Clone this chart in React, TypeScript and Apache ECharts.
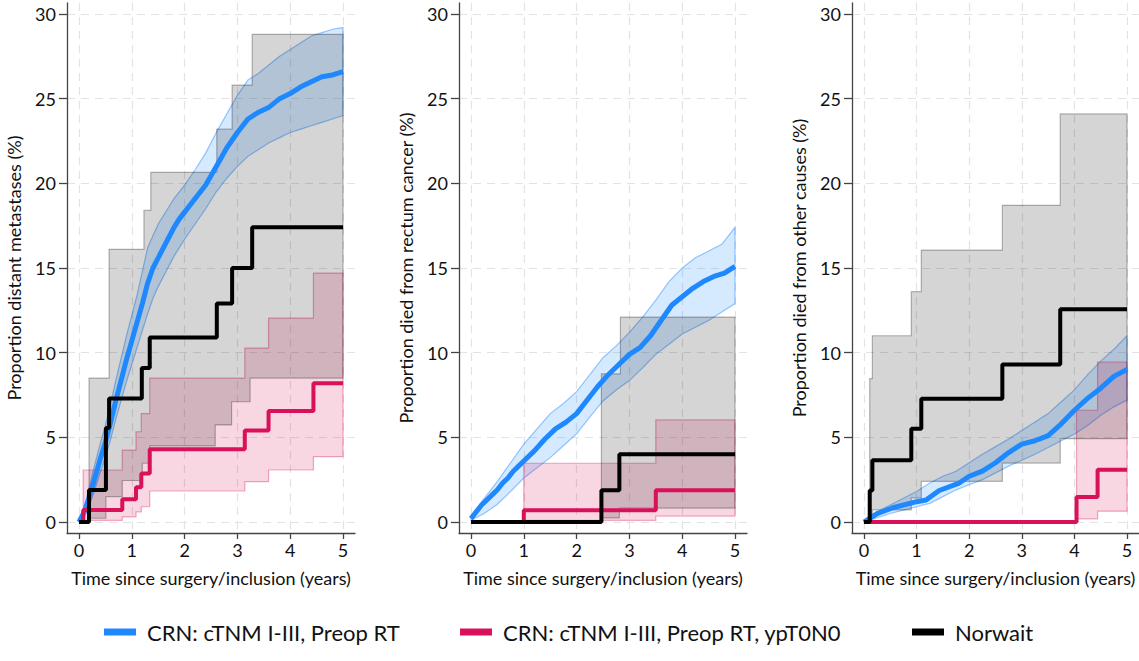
import React, { useEffect, useRef } from "react";
import * as echarts from "echarts";

const FONT = 'Lato, "Open Sans", sans-serif';

const NAME_CRN = "CRN: cTNM I-III, Preop RT";
const NAME_PCR = "CRN: cTNM I-III, Preop RT, ypT0N0";
const NAME_NOR = "Norwait";

const xTicks = [0, 1, 2, 3, 4, 5];
const yTicks = [0, 5, 10, 15, 20, 25, 30];
const xTitle = "Time since surgery/inclusion (years)";
const yTitles = [
  "Proportion distant metastases (%)",
  "Proportion died from rectum cancer (%)",
  "Proportion died from other causes (%)",
];

// ---------- Panel 1: distant metastases ----------
const p1Blue = [[0,0],[0.1,0.6],[0.2,1.5],[0.3,2.6],[0.4,3.7],[0.5,4.7],[0.6,5.9],[0.7,7.2],[0.8,8.4],[0.9,9.6],[1.0,10.7],[1.1,11.8],[1.2,12.9],[1.3,14.1],[1.4,15.0],[1.5,15.6],[1.6,16.2],[1.7,16.8],[1.8,17.4],[1.9,17.9],[2.0,18.3],[2.2,19.1],[2.4,19.9],[2.6,21.0],[2.8,22.1],[3.0,23.0],[3.2,23.8],[3.4,24.2],[3.6,24.5],[3.8,25.0],[4.0,25.3],[4.2,25.7],[4.4,26.0],[4.6,26.3],[4.8,26.4],[5.0,26.6]];
const p1BlueUpper = [[0,0],[0.1,0.9],[0.2,2.1],[0.3,3.4],[0.4,4.6],[0.5,5.7],[0.6,7.0],[0.7,8.4],[0.8,9.7],[0.9,11.0],[1.0,12.2],[1.1,13.4],[1.2,14.8],[1.3,16.2],[1.4,16.9],[1.5,17.6],[1.6,18.1],[1.7,18.6],[1.8,19.1],[1.9,19.5],[2.0,19.9],[2.2,20.8],[2.4,21.8],[2.6,23.0],[2.8,24.1],[3.0,25.2],[3.2,26.1],[3.4,26.5],[3.6,27.0],[3.8,27.5],[4.0,27.9],[4.2,28.3],[4.4,28.7],[4.6,28.9],[4.8,29.1],[5.0,29.2]];
const p1BlueLower = [[0,0],[0.1,0.3],[0.2,1.0],[0.3,1.9],[0.4,2.9],[0.5,3.8],[0.6,4.9],[0.7,6.1],[0.8,7.2],[0.9,8.3],[1.0,9.3],[1.1,10.3],[1.2,11.3],[1.3,12.3],[1.4,13.2],[1.5,13.9],[1.6,14.5],[1.7,15.1],[1.8,15.7],[1.9,16.2],[2.0,16.7],[2.2,17.6],[2.4,18.5],[2.6,19.5],[2.8,20.3],[3.0,21.0],[3.2,21.6],[3.4,22.0],[3.6,22.4],[3.8,22.7],[4.0,23.0],[4.2,23.2],[4.4,23.4],[4.6,23.6],[4.8,23.8],[5.0,24.0]];
const p1Black = [[0,0],[0.19,1.89],[0.51,5.55],[0.57,7.3],[1.19,9.1],[1.34,10.9],[2.61,12.9],[2.9,15.0],[3.28,17.4],[5,17.4]];
const p1BlackUpper = [[0.19,8.5],[0.57,16.1],[1.23,18.4],[1.36,20.65],[2.61,23.2],[2.9,25.8],[3.28,28.8],[5,28.8]];
const p1BlackLower = [[0.19,0.22],[0.51,1.5],[0.82,2.45],[1.2,3.47],[1.34,4.49],[2.58,5.73],[2.89,7.1],[3.24,8.5],[5,8.5]];
const p1Pink = [[0,0],[0.08,0.71],[0.82,1.34],[1.08,2.05],[1.18,2.87],[1.34,4.29],[3.14,5.4],[3.59,6.55],[4.44,8.19],[5,8.19]];
const p1PinkUpper = [[0.08,3.07],[0.82,4.25],[1.08,5.33],[1.18,6.4],[1.34,8.5],[3.14,10.27],[3.59,12.04],[4.44,14.7],[5,14.7]];
const p1PinkLower = [[0.08,0.1],[0.82,0.3],[1.08,0.6],[1.18,0.9],[1.34,1.83],[3.14,2.38],[3.59,3.07],[4.44,3.86],[5,3.86]];

// ---------- Panel 2: died from rectum cancer ----------
const p2Blue = [[0,0.2],[0.1,0.6],[0.2,1.0],[0.3,1.3],[0.4,1.6],[0.5,1.9],[0.6,2.3],[0.7,2.6],[0.8,3.0],[0.9,3.3],[1.0,3.6],[1.2,4.2],[1.4,4.9],[1.6,5.5],[1.8,5.9],[2.0,6.4],[2.2,7.2],[2.4,8.0],[2.6,8.7],[2.8,9.3],[3.0,9.9],[3.2,10.3],[3.4,11.0],[3.6,11.9],[3.8,12.8],[4.0,13.3],[4.2,13.8],[4.4,14.2],[4.6,14.5],[4.8,14.7],[5.0,15.1]];
const p2BlueUpper = [[0,0.3],[0.25,1.4],[0.5,2.4],[0.75,3.5],[1.0,4.6],[1.25,5.5],[1.5,6.4],[1.75,7.0],[2.0,7.7],[2.25,8.7],[2.5,9.7],[2.75,10.4],[3.0,11.2],[3.25,12.1],[3.5,13.1],[3.75,14.2],[4.0,15.0],[4.25,15.6],[4.5,16.0],[4.75,16.4],[5.0,17.4]];
const p2BlueLower = [[0,0.1],[0.25,0.5],[0.5,1.05],[0.75,1.8],[1.0,2.6],[1.25,3.2],[1.5,3.8],[1.75,4.5],[2.0,5.2],[2.25,6.2],[2.5,7.15],[2.75,7.8],[3.0,8.35],[3.25,9.1],[3.5,9.9],[3.75,10.5],[4.0,11.1],[4.25,11.5],[4.5,11.9],[4.75,12.4],[5.0,12.9]];
const p2Black = [[0,0],[2.47,1.88],[2.81,4.0],[5,4.0]];
const p2BlackUpper = [[2.47,8.75],[2.83,12.1],[5,12.1]];
const p2BlackLower = [[2.47,0.24],[2.81,0.82],[5,0.82]];
const p2Pink = [[0,0],[1.0,0.69],[3.5,1.88],[5,1.88]];
const p2PinkUpper = [[1.0,3.47],[3.5,6.03],[5,6.03]];
const p2PinkLower = [[1.0,0.1],[3.5,0.35],[5,0.35]];

// ---------- Panel 3: died from other causes ----------
const p3Blue = [[0,0],[0.25,0.5],[0.55,0.84],[1.0,1.2],[1.18,1.3],[1.43,1.86],[1.81,2.3],[2.0,2.7],[2.25,3.0],[2.5,3.5],[2.75,4.1],[3.0,4.6],[3.25,4.8],[3.5,5.1],[3.75,5.8],[4.0,6.6],[4.25,7.3],[4.5,7.9],[4.75,8.6],[5.0,9.0]];
const p3BlueUpper = [[0,0],[0.25,0.6],[0.5,1.0],[0.75,1.4],[1.0,1.8],[1.25,2.3],[1.5,2.7],[1.75,3.0],[2.0,3.5],[2.25,4.0],[2.5,4.45],[2.75,4.9],[3.0,5.4],[3.25,5.9],[3.5,6.4],[3.75,7.1],[4.0,7.8],[4.25,8.7],[4.5,9.5],[4.75,10.2],[5.0,11.0]];
const p3BlueLower = [[0,0],[0.25,0.25],[0.5,0.5],[0.75,0.7],[1.0,0.9],[1.25,1.1],[1.5,1.5],[1.75,1.9],[2.0,2.2],[2.25,2.5],[2.5,2.9],[2.75,3.3],[3.0,3.65],[3.25,4.0],[3.5,4.4],[3.75,4.8],[4.0,5.2],[4.25,5.7],[4.5,6.3],[4.75,6.8],[5.0,7.2]];
const p3Black = [[0,0],[0.11,1.86],[0.16,3.64],[0.9,5.5],[1.09,7.28],[2.63,9.3],[3.73,12.57],[5,12.57]];
const p3BlackUpper = [[0.11,8.47],[0.16,11.0],[0.9,13.6],[1.09,16.06],[2.63,18.7],[3.73,24.1],[5,24.1]];
const p3BlackLower = [[0.11,0.2],[0.16,0.72],[0.9,1.43],[1.09,2.4],[2.63,3.48],[3.73,4.92],[5,4.92]];
const p3Pink = [[0,0],[4.04,1.47],[4.44,3.08],[5,3.08]];
const p3PinkUpper = [[4.04,6.6],[4.44,9.45],[5,9.45]];
const p3PinkLower = [[4.04,0.19],[4.44,0.64],[5,0.64]];

const BLUE = "#1e88ff";
const PINK = "#d8115a";
const BLACK = "#000000";

const panels = [
  { blue: p1Blue, bu: p1BlueUpper, bl: p1BlueLower, black: p1Black, ku: p1BlackUpper, kl: p1BlackLower, pink: p1Pink, pu: p1PinkUpper, pl: p1PinkLower },
  { blue: p2Blue, bu: p2BlueUpper, bl: p2BlueLower, black: p2Black, ku: p2BlackUpper, kl: p2BlackLower, pink: p2Pink, pu: p2PinkUpper, pl: p2PinkLower },
  { blue: p3Blue, bu: p3BlueUpper, bl: p3BlueLower, black: p3Black, ku: p3BlackUpper, kl: p3BlackLower, pink: p3Pink, pu: p3PinkUpper, pl: p3PinkLower },
];

const gridLefts = [67, 459, 852];
const legendItems = [
  { name: NAME_CRN, color: BLUE, left: 99 },
  { name: NAME_PCR, color: PINK, left: 455 },
  { name: NAME_NOR, color: BLACK, left: 907 },
];

function stepPath(pairs: number[][]) {
  const pts: number[][] = [];
  pairs.forEach((p, i) => {
    if (i > 0) pts.push([p[0], pairs[i - 1][1]]);
    pts.push(p);
  });
  return pts;
}

function band(idx: number, upper: number[][], lower: number[][], stepped: boolean, fill: string, stroke: string) {
  return {
    type: "custom",
    xAxisIndex: idx,
    yAxisIndex: idx,
    silent: true,
    data: [[upper[0][0], upper[0][1]]],
    renderItem: (params: any, api: any) => {
      if (params.dataIndex !== 0) return null;
      const up = stepped ? stepPath(upper) : upper;
      const lo = (stepped ? stepPath(lower) : lower).slice().reverse();
      const pts = up.concat(lo).map((p) => api.coord(p));
      return {
        type: "polygon",
        shape: { points: pts },
        style: { fill, stroke, lineWidth: 1.2 },
      };
    },
  };
}

export default function App() {
  const ref = useRef<HTMLDivElement>(null);
  useEffect(() => {
    if (!ref.current) return;
    const chart = echarts.init(ref.current, null, { renderer: "svg" });
    const grids: any[] = [];
    const xAxes: any[] = [];
    const yAxes: any[] = [];
    const series: any[] = [];
    panels.forEach((p, i) => {
      grids.push({ left: gridLefts[i], top: 3, width: 288, height: 530 });
      xAxes.push({
        gridIndex: i,
        type: "value",
        min: -0.227,
        max: 5.227,
        name: xTitle,
        nameLocation: "middle",
        nameGap: 36,
        nameTextStyle: { fontFamily: FONT, fontSize: 18, color: "#111" },
        axisLine: { show: true, onZero: false, lineStyle: { color: "#444", width: 1.3 } },
        axisTick: { show: true, length: 6, customValues: xTicks, lineStyle: { color: "#444", width: 1.3 } },
        axisLabel: { customValues: xTicks, fontFamily: FONT, fontSize: 18, color: "#111", margin: 8 },
        splitLine: { show: true, lineStyle: { type: [8, 6], color: "#e3e3e3", width: 1.2 } },
      });
      yAxes.push({
        gridIndex: i,
        type: "value",
        min: -0.65,
        max: 30.65,
        name: yTitles[i],
        nameLocation: "middle",
        nameGap: 44,
        nameTextStyle: { fontFamily: FONT, fontSize: 18, color: "#111" },
        axisLine: { show: true, onZero: false, lineStyle: { color: "#444", width: 1.3 } },
        axisTick: { show: true, length: 8, customValues: yTicks, lineStyle: { color: "#444", width: 1.3 } },
        axisLabel: { customValues: yTicks, fontFamily: FONT, fontSize: 18, color: "#111", margin: 11 },
        splitLine: { show: true, lineStyle: { type: [8, 6], color: "#e3e3e3", width: 1.2 } },
      });
      series.push(band(i, p.bu, p.bl, false, "rgba(30,136,255,0.18)", "rgba(30,136,255,0.45)"));
      series.push(band(i, p.pu, p.pl, true, "rgba(216,17,90,0.17)", "rgba(216,17,90,0.35)"));
      series.push(band(i, p.ku, p.kl, true, "rgba(0,0,0,0.165)", "rgba(0,0,0,0.28)"));
      series.push({
        type: "line", name: NAME_CRN, xAxisIndex: i, yAxisIndex: i, data: p.blue,
        showSymbol: false, symbol: "none", lineStyle: { color: BLUE, width: 5 }, itemStyle: { color: BLUE },
      });
      series.push({
        type: "line", name: NAME_PCR, xAxisIndex: i, yAxisIndex: i, data: p.pink, step: "end",
        showSymbol: false, symbol: "none", lineStyle: { color: PINK, width: 4 }, itemStyle: { color: PINK },
      });
      series.push({
        type: "line", name: NAME_NOR, xAxisIndex: i, yAxisIndex: i, data: p.black, step: "end",
        showSymbol: false, symbol: "none", lineStyle: { color: BLACK, width: 4 }, itemStyle: { color: BLACK },
      });
    });
    chart.setOption({
      animation: false,
      backgroundColor: "#ffffff",
      grid: grids,
      xAxis: xAxes,
      yAxis: yAxes,
      series,
      legend: legendItems.map((it) => ({
        left: it.left,
        top: 616,
        itemWidth: 32,
        itemHeight: 7,
        selectedMode: false,
        textStyle: { fontFamily: FONT, fontSize: 22, color: "#111", padding: [0, 0, 0, 6] },
        data: [{ name: it.name, icon: "rect", itemStyle: { color: it.color } }],
      })),
    });
    return () => chart.dispose();
  }, []);
  return (
    <div
      ref={ref}
      style={{ position: "fixed", left: 0, top: 0, width: 1139, height: 661 }}
    />
  );
}
